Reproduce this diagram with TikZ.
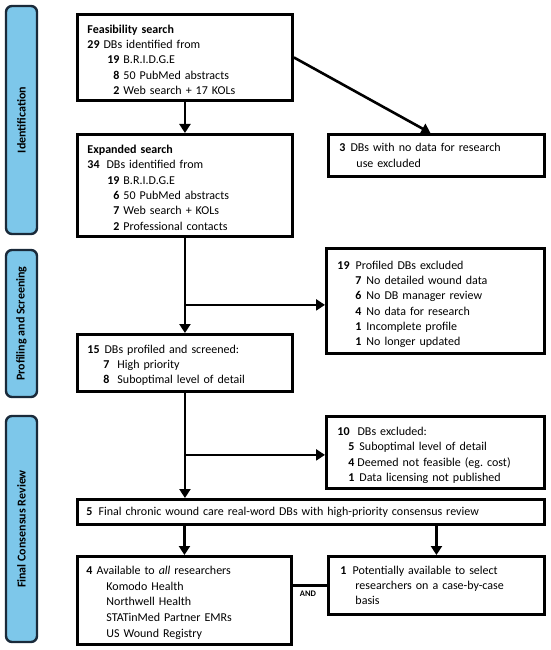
\documentclass[tikz,border=0pt]{standalone}
\usepackage{fontspec}
\setmainfont{Carlito}
\usetikzlibrary{arrows.meta,calc}
\definecolor{phasefill}{HTML}{7DC7EA}
\definecolor{phaseline}{HTML}{1A2A3A}
\newcommand{\rn}[2]{\makebox[#1][r]{\textbf{#2}}}
\newcommand{\fs}{\rule{0pt}{13pt}}
\frenchspacing
\begin{document}
\begin{tikzpicture}[x=1pt,y=-1pt,
  box/.style={draw=black, line width=2.9pt, anchor=north west, inner xsep=10pt, inner ysep=0pt, align=left, font=\fontsize{12}{15.3}\selectfont},
  arr/.style={line width=2.6pt, -{Triangle[length=9pt,width=11pt]}},
  ln/.style={line width=2.6pt},
  phase/.style={draw=phaseline, fill=phasefill, line width=2.4pt, rounded corners=6pt, minimum height=31pt, rotate=90, font=\bfseries\fontsize{12}{14}\selectfont}
]
\useasboundingbox (0,0) rectangle (551,650);

% phase panels
\node[phase, minimum width=228pt] (p1) at (21.5,120) {Identification};
\node[phase, minimum width=147pt] (p2) at (21.5,323.5) {Profiling and Screening};
\node[phase, minimum width=226pt] (p3) at (21.5,529) {Final Consensus Review};

% boxes
\node[box, minimum width=215pt, minimum height=86pt, text width=195pt] (feas) at (76,13) {%
\fs\textbf{Feasibility search}\\
\textbf{29}\hspace{4pt}DBs identified from\\
\rn{32pt}{19}\hspace{4pt}B.R.I.D.G.E\\
\rn{32pt}{8}\hspace{4pt}50 PubMed abstracts\\
\rn{32pt}{2}\hspace{4pt}Web search + 17 KOLs};

\node[box, minimum width=215pt, minimum height=102pt, text width=195pt] (exp) at (76,133) {%
\fs\textbf{Expanded search}\\
\textbf{34}\hspace{7pt}DBs identified from\\
\rn{32pt}{19}\hspace{4pt}B.R.I.D.G.E\\
\rn{32pt}{6}\hspace{4pt}50 PubMed abstracts\\
\rn{32pt}{7}\hspace{4pt}Web search + KOLs\\
\rn{32pt}{2}\hspace{4pt}Professional contacts};

\node[box, minimum width=215pt, minimum height=42pt, text width=194pt, inner xsep=11pt] (ex3) at (327,133) {%
\textbf{3}\hspace{5pt}DBs with no data for research\\
\hspace{17pt}use excluded};

\node[box, minimum width=218pt, minimum height=105pt, text width=196pt, inner xsep=11pt] (prof) at (325,247) {%
\rule{0pt}{15pt}\textbf{19}\hspace{6pt}Profiled DBs excluded\\
\rn{24pt}{7}\hspace{5pt}No detailed wound data\\
\rn{24pt}{6}\hspace{5pt}No DB manager review\\
\rn{24pt}{4}\hspace{5pt}No data for research\\
\rn{24pt}{1}\hspace{5pt}Incomplete profile\\
\rn{24pt}{1}\hspace{5pt}No longer updated};

\node[box, minimum width=215pt, minimum height=57pt, text width=195pt] (s15) at (76,333) {%
\fs\textbf{15}\hspace{5pt}DBs profiled and screened:\\
\rn{22pt}{7}\hspace{8pt}High priority\\
\rn{22pt}{8}\hspace{8pt}Suboptimal level of detail};

\node[box, minimum width=218pt, minimum height=72pt, text width=196pt, inner xsep=11pt] (ex10) at (325,415) {%
\rule{0pt}{14pt}\textbf{10}\hspace{8pt}DBs excluded:\\
\rn{17pt}{5}\hspace{5pt}Suboptimal level of detail\\
\rn{17pt}{4}\hspace{3pt}Deemed not feasible (eg. cost)\\
\rn{17pt}{1}\hspace{5pt}Data licensing not published};

\node[box, minimum width=467pt, minimum height=25pt, text width=449pt, inner xsep=9pt] (fin) at (76,498) {%
\textbf{5}\hspace{6pt}Final chronic wound care real-word DBs with high-priority consensus review};

\node[box, minimum width=214pt, minimum height=88pt, text width=196pt, inner xsep=9pt, font=\fontsize{12}{15.6}\selectfont] (av4) at (76,555) {%
\fs\textbf{4}\hspace{4pt}Available to \textit{all} researchers\\
\hspace{20pt}Komodo Health\\
\hspace{20pt}Northwell Health\\
\hspace{20pt}STATinMed Partner EMRs\\
\hspace{20pt}US Wound Registry};

\node[box, minimum width=216pt, minimum height=58pt, text width=192pt, inner xsep=12pt] (av1) at (327,555) {%
\textbf{1}\hspace{6pt}Potentially available to select\\
\hspace{15pt}researchers on a case-by-case\\
\hspace{15pt}basis};

% connectors
\path (exp.south) ++(0,67) coordinate (j1);
\path (s15.south) ++(0,62) coordinate (j2);
\draw[arr] (feas.south) -- (exp.north);
\draw[arr] (feas.east) -- ($(ex3.north)+(-6,0)$);
\draw[arr] (exp.south) -- (s15.north);
\draw[arr] (j1) -- (j1 -| prof.west);
\draw[arr] (s15.south) -- (s15.south |- fin.north);
\draw[arr] (j2) -- (j2 -| ex10.west);
\draw[arr] (av4.north |- fin.south) -- (av4.north);
\draw[arr] (av1.north |- fin.south) -- (av1.north);
\draw[ln] (av1.west -| av4.east) -- (av1.west);
\node[font=\bfseries\fontsize{8.5}{9}\selectfont] (and) at (308,594) {AND};
\end{tikzpicture}
\end{document}
